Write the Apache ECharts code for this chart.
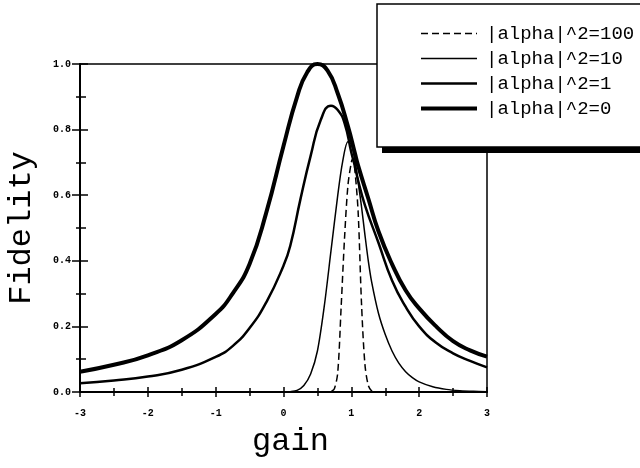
<!DOCTYPE html>
<html>
<head>
<meta charset="utf-8">
<script src="https://cdn.jsdelivr.net/npm/echarts@6/dist/echarts.min.js"></script>
<style>
html,body{margin:0;padding:0;background:#fff;}
#chart{width:640px;height:468px;}
</style>
</head>
<body>
<div id="chart"></div>
<script>
// ---- data ----
const xTickLabels = ['-3', '-2', '-1', '0', '1', '2', '3'];
const yTickLabels = ['0.0', '0.2', '0.4', '0.6', '0.8', '1.0'];
const seriesNames = ['|alpha|^2=100', '|alpha|^2=10', '|alpha|^2=1', '|alpha|^2=0'];

// |alpha|^2 = 0 (thickest)
const gain0 = [-3, -2.5, -2, -1.5, -1, -0.75, -0.5, -0.25, 0, 0.2, 0.35, 0.5, 0.65, 0.8, 0.95, 1.05, 1.1, 1.25, 1.4, 1.6, 1.8, 2.0, 2.25, 2.5, 2.75, 3];
const fid0  = [0.062, 0.083, 0.112, 0.158, 0.238, 0.30, 0.39, 0.55, 0.75, 0.90, 0.975, 1.0, 0.98, 0.91, 0.81, 0.73, 0.69, 0.59, 0.49, 0.39, 0.31, 0.255, 0.20, 0.155, 0.127, 0.108];

// |alpha|^2 = 1
const gain1 = [-3, -2.5, -2, -1.5, -1, -0.75, -0.5, -0.25, 0, 0.1, 0.25, 0.4, 0.55, 0.7, 0.8, 0.9, 1.0, 1.05, 1.1, 1.2, 1.4, 1.6, 1.8, 2.0, 2.25, 2.5, 2.75, 3];
const fid1  = [0.027, 0.035, 0.047, 0.068, 0.107, 0.14, 0.195, 0.275, 0.385, 0.446, 0.588, 0.72, 0.83, 0.873, 0.86, 0.82, 0.73, 0.69, 0.645, 0.57, 0.455, 0.34, 0.26, 0.20, 0.15, 0.118, 0.095, 0.075];

// |alpha|^2 = 10
const gain10 = [-3, -2, -1, -0.5, 0, 0.1, 0.2, 0.3, 0.4, 0.5, 0.6, 0.7, 0.8, 0.87, 0.95, 1.0, 1.05, 1.1, 1.15, 1.2, 1.25, 1.3, 1.4, 1.5, 1.6, 1.7, 1.8, 1.9, 2.0, 2.2, 2.4, 2.6, 2.8, 3.0];
const fid10  = [0, 0, 0, 0, 0, 0.001, 0.005, 0.02, 0.055, 0.125, 0.26, 0.43, 0.6, 0.70, 0.763, 0.755, 0.71, 0.64, 0.565, 0.48, 0.40, 0.335, 0.24, 0.175, 0.125, 0.088, 0.062, 0.044, 0.031, 0.016, 0.008, 0.004, 0.002, 0.001];

// |alpha|^2 = 100 (dashed)
const gain100 = [0.55, 0.65, 0.7, 0.75, 0.8, 0.85, 0.9, 0.95, 1.0, 1.02, 1.05, 1.1, 1.15, 1.2, 1.25, 1.3, 1.35, 1.45];
const fid100  = [0, 0, 0.002, 0.01, 0.06, 0.26, 0.47, 0.63, 0.70, 0.71, 0.68, 0.55, 0.27, 0.085, 0.02, 0.003, 0, 0];

function pairs(xs, ys) { return xs.map((x, i) => [x, ys[i]]); }

const FONT = "'Liberation Mono', 'Courier New', monospace";
const chart = echarts.init(document.getElementById('chart'), null, {renderer: 'canvas'});

const xBase = {
  type: 'value', min: -3, max: 3, interval: 1, position: 'bottom', gridIndex: 0,
  splitLine: {show: false}
};
const yBase = {
  type: 'value', min: 0, max: 1, interval: 0.2, position: 'left', gridIndex: 0,
  splitLine: {show: false}
};

const option = {
  backgroundColor: '#fff',
  animation: false,
  grid: {left: 80, top: 64, width: 407, height: 328, containLabel: false, outerBoundsMode: 'none',
         show: true, borderColor: '#000', borderWidth: 1.5, backgroundColor: 'transparent'},
  xAxis: [
    Object.assign({}, xBase, {
      name: 'gain', nameLocation: 'middle', nameGap: 34,
      nameTextStyle: {fontFamily: FONT, fontSize: 32, color: '#000', padding: [0, 0, 0, 14]},
      axisLine: {show: true, onZero: false, lineStyle: {color: '#000', width: 2}},
      axisTick: {show: true, inside: false, length: 5, lineStyle: {color: '#000', width: 1.5}},
      minorTick: {show: true, splitNumber: 2, length: 4, lineStyle: {color: '#000', width: 1.5}},
      axisLabel: {show: true, margin: 16, fontFamily: FONT, fontSize: 10, fontWeight: 'bold', color: '#000',
        formatter: v => xTickLabels[Math.round(v + 3)]}
    }),
    Object.assign({}, xBase, {
      axisLine: {show: false, onZero: false},
      axisTick: {show: true, inside: true, length: 5, lineStyle: {color: '#000', width: 1.5}},
      minorTick: {show: true, splitNumber: 2, length: 4, lineStyle: {color: '#000', width: 1.5}},
      axisLabel: {show: false}
    })
  ],
  yAxis: [
    Object.assign({}, yBase, {
      name: 'Fidelity', nameLocation: 'middle', nameGap: 42, nameRotate: 90,
      nameTextStyle: {fontFamily: FONT, fontSize: 32, color: '#000'},
      axisLine: {show: true, onZero: false, lineStyle: {color: '#000', width: 2}},
      axisTick: {show: true, inside: false, length: 8, lineStyle: {color: '#000', width: 1.5}},
      minorTick: {show: true, splitNumber: 2, length: 4, lineStyle: {color: '#000', width: 1.5}},
      axisLabel: {show: true, margin: 9, fontFamily: FONT, fontSize: 10, fontWeight: 'bold', color: '#000',
        formatter: v => yTickLabels[Math.round(v * 5)]}
    }),
    Object.assign({}, yBase, {
      axisLine: {show: false, onZero: false},
      axisTick: {show: true, inside: true, length: 8, lineStyle: {color: '#000', width: 1.5}},
      minorTick: {show: true, splitNumber: 2, length: 6, lineStyle: {color: '#000', width: 1.5}},
      axisLabel: {show: false}
    })
  ],
  graphic: [
    {type: 'rect', z: 3, shape: {x: 382, y: 9, width: 270, height: 144}, style: {fill: '#000'}},
    {type: 'rect', z: 3, shape: {x: 377, y: 4, width: 270, height: 143}, style: {fill: '#fff', stroke: '#000', lineWidth: 1.5}}
  ],
  legend: {
    z: 6,
    left: 419, top: 24, orient: 'vertical', padding: 0,
    itemWidth: 56, itemHeight: 14, itemGap: 6,
    selectedMode: false,
    itemStyle: {color: 'transparent', borderWidth: 0, opacity: 0},
    textStyle: {fontFamily: FONT, fontSize: 19, color: '#000', padding: [0, 0, 0, 4]},
    data: [
      {name: seriesNames[0], lineStyle: {width: 1.5, type: [7, 4], color: '#000'}},
      {name: seriesNames[1], lineStyle: {width: 1.5, type: 'solid', color: '#000'}},
      {name: seriesNames[2], lineStyle: {width: 2.5, type: 'solid', color: '#000'}},
      {name: seriesNames[3], lineStyle: {width: 4, type: 'solid', color: '#000'}}
    ]
  },
  series: [
    {name: seriesNames[0], type: 'line', xAxisIndex: 0, yAxisIndex: 0, symbol: 'none', smooth: 0.3,
     data: pairs(gain100, fid100), lineStyle: {color: '#000', width: 1.5, type: [7, 4]}, itemStyle: {color: '#000'}},
    {name: seriesNames[1], type: 'line', xAxisIndex: 0, yAxisIndex: 0, symbol: 'none', smooth: 0.3,
     data: pairs(gain10, fid10), lineStyle: {color: '#000', width: 1.5}, itemStyle: {color: '#000'}},
    {name: seriesNames[2], type: 'line', xAxisIndex: 0, yAxisIndex: 0, symbol: 'none', smooth: 0.5,
     data: pairs(gain1, fid1), lineStyle: {color: '#000', width: 2.5}, itemStyle: {color: '#000'}},
    {name: seriesNames[3], type: 'line', xAxisIndex: 0, yAxisIndex: 0, symbol: 'none', smooth: 0.5,
     data: pairs(gain0, fid0), lineStyle: {color: '#000', width: 4}, itemStyle: {color: '#000'}}
  ]
};
chart.setOption(option);
</script>
</body>
</html>
